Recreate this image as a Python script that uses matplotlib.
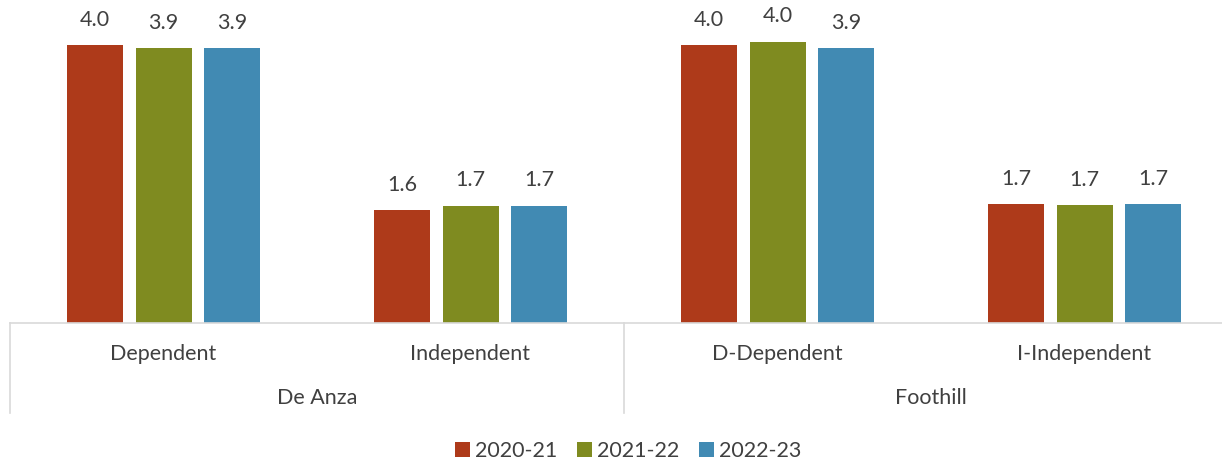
import matplotlib
matplotlib.use("Agg")
import matplotlib.pyplot as plt
from matplotlib.patches import Patch
import matplotlib.transforms as mtransforms

categories = ["Dependent", "Independent", "D-Dependent", "I-Independent"]
groups = ["De Anza", "Foothill"]
series_names = ["2020-21", "2021-22", "2022-23"]
v2020 = [3.98, 1.62, 3.98, 1.70]
v2021 = [3.94, 1.68, 4.03, 1.69]
v2022 = [3.93, 1.68, 3.93, 1.70]
colors = ["#AE3A1A", "#7F8B20", "#418AB3"]

plt.rcParams["font.family"] = ["Lato", "DejaVu Sans"]
W, H = 1222, 463
fig = plt.figure(figsize=(W / 100, H / 100), dpi=100)
x0, x1 = 10, 1238
ybase, ytop = 323, 10
ax = fig.add_axes([x0 / W, (H - ybase) / H, (x1 - x0) / W, (ybase - ytop) / H])
px_per_unit = 69.85
ax.set_ylim(0, (ybase - ytop) / px_per_unit)
ax.set_xlim(-0.5, len(categories) - 0.5)

step = 68.5 / 307
width = 56 / 307
text_col = "#404040"
fs = 15.5
for i, (vals, c) in enumerate(zip([v2020, v2021, v2022], colors)):
    xs = [k + (i - 1) * step for k in range(len(categories))]
    bars = ax.bar(xs, vals, width=width, color=c, zorder=2)
    for b, v in zip(bars, vals):
        ax.annotate(f"{v:.1f}", (b.get_x() + b.get_width() / 2, v),
                    xytext=(0, 11), textcoords="offset points",
                    ha="center", va="bottom", fontsize=fs, color=text_col)

for s in ["top", "right", "left"]:
    ax.spines[s].set_visible(False)
ax.spines["bottom"].set_color("#D9D9D9")
ax.spines["bottom"].set_linewidth(1.2)
ax.set_xticks([])
ax.set_yticks([])

axh = ybase - ytop
trans = mtransforms.blended_transform_factory(ax.transData, ax.transAxes)
for xb in [-0.5, 1.5, 3.5]:
    ax.plot([xb, xb], [0, -90 / axh], color="#D9D9D9", lw=1.2,
            transform=trans, clip_on=False)
for k, cat in enumerate(categories):
    ax.text(k, -31 / axh, cat, transform=trans, ha="center", va="center",
            fontsize=fs, color=text_col)
for g, name in enumerate(groups):
    ax.text(2 * g + 0.5, -75 / axh, name, transform=trans, ha="center",
            va="center", fontsize=fs, color=text_col)

handles = [Patch(facecolor=c, edgecolor="none") for c in colors]
fig.legend(handles, series_names, loc="center", bbox_to_anchor=(628 / W, 12 / H),
           ncol=3, frameon=False, fontsize=fs, handlelength=0.7,
           handleheight=0.7, handletextpad=0.25, columnspacing=0.9,
           labelcolor=text_col)

fig.savefig("out.png", dpi=100)
